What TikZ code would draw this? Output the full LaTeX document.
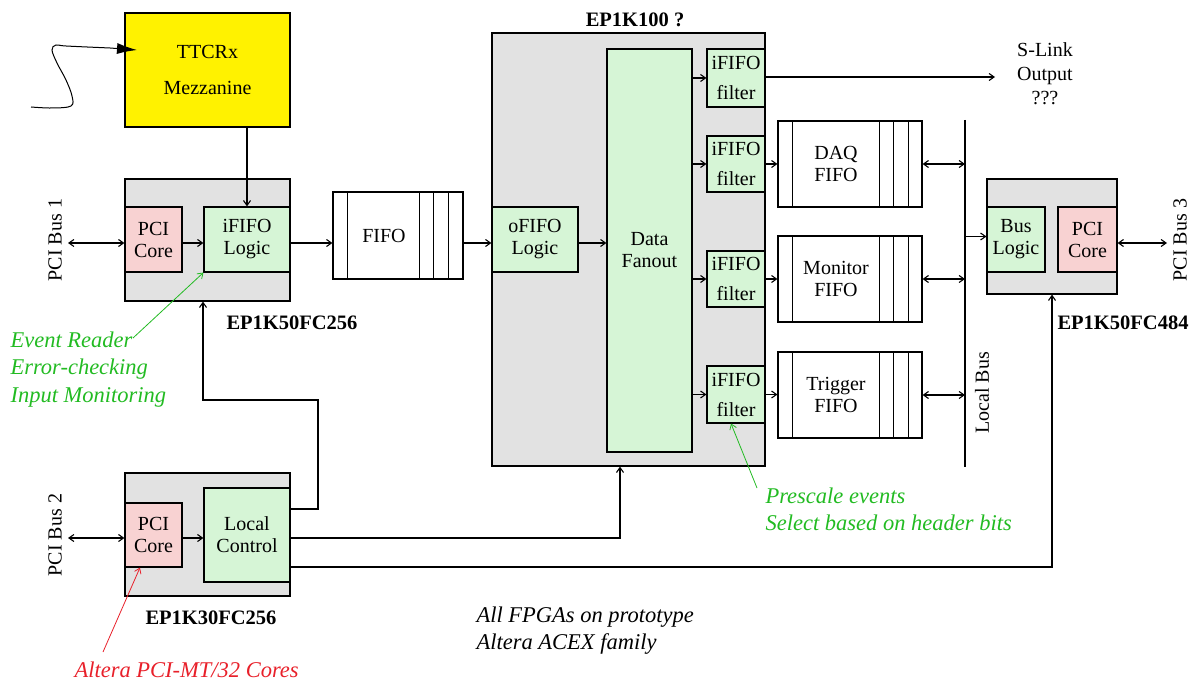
\documentclass[tikz,border=0pt]{standalone}
\usepackage{fontspec}
\setmainfont{Liberation Serif}
\usetikzlibrary{arrows.meta,calc}
\definecolor{chipgray}{HTML}{E2E2E2}
\definecolor{logicgreen}{HTML}{D6F5D6}
\definecolor{corepink}{HTML}{F8D2D2}
\definecolor{notegreen}{HTML}{22BB22}
\definecolor{notered}{HTML}{E8202A}
\begin{document}
\begin{tikzpicture}[x=1pt,y=-1pt,line width=1.1pt,
  txt/.style={font=\fontsize{20}{22}\selectfont},
  blk/.style={draw,rectangle,inner sep=0pt,align=center,txt},
  chip/.style={blk,fill=chipgray},
  logic/.style={blk,fill=logicgreen},
  core/.style={blk,fill=corepink},
  fifobox/.style={blk,fill=white},
  lbl/.style={font=\fontsize{20.5}{24}\selectfont\bfseries},
  note/.style={font=\fontsize{22.5}{27.5}\selectfont\itshape,align=left,inner sep=0pt},
  arr/.style={-{Straight Barb[length=5pt,width=7pt]}},
  darr/.style={{Straight Barb[length=5pt,width=7pt]}-{Straight Barb[length=5pt,width=7pt]}}]
\useasboundingbox (0,0) rectangle (1190,684);

% chips
\node[chip,minimum width=165,minimum height=122] (ep50a) at (207.5,240) {};
\node[chip,minimum width=273,minimum height=433] (ep100) at (628.5,249.5) {};
\node[chip,minimum width=130,minimum height=115] (ep50b) at (1052,236.5) {};
\node[chip,minimum width=165,minimum height=123] (ep30) at (207.5,534.5) {};

% TTCRx
\node[blk,fill=yellow,minimum width=165,minimum height=114,font=\fontsize{20}{23}\selectfont] (ttc) at (207.5,70) {TTCRx\\[13pt]Mezzanine};

% inner blocks
\node[core,minimum width=57,minimum height=65] (pci1) at (153.5,239.5) {PCI\\Core};
\node[logic,minimum width=86,minimum height=65] (ifl) at (247,239.5) {iFIFO\\Logic};
\node[logic,minimum width=86,minimum height=65] (ofl) at (535,239.5) {oFIFO\\Logic};
\node[logic,minimum width=85,minimum height=403] (fan) at (649.5,250.5) {Data\\Fanout};
\node[logic,minimum width=58,minimum height=58,font=\fontsize{20}{30}\selectfont] (f1) at (736,78) {iFIFO\\filter};
\node[logic,minimum width=58,minimum height=56,font=\fontsize{20}{30}\selectfont] (f2) at (736,164) {iFIFO\\filter};
\node[logic,minimum width=58,minimum height=56,font=\fontsize{20}{30}\selectfont] (f3) at (736,279) {iFIFO\\filter};
\node[logic,minimum width=58,minimum height=57,font=\fontsize{20}{30}\selectfont] (f4) at (736,394.5) {iFIFO\\filter};
\node[logic,minimum width=58,minimum height=65] (busl) at (1016,239.5) {Bus\\Logic};
\node[core,minimum width=59,minimum height=65] (pci3) at (1087.5,239.5) {PCI\\Core};
\node[core,minimum width=57,minimum height=64] (pci2) at (153.5,535) {PCI\\Core};
\node[logic,minimum width=86,minimum height=94] (lc) at (247,535) {Local\\Control};

% FIFOs
\node[fifobox,minimum width=130,minimum height=87] (fifo) at (398,235.5) {};
\node[txt] (fifot) at (384,236) {FIFO};
\node[fifobox,minimum width=144,minimum height=86] (daq) at (850,164) {};
\node[txt,align=center] (daqt) at (836,164) {DAQ\\FIFO};
\node[fifobox,minimum width=144,minimum height=86] (mon) at (850,279) {};
\node[txt,align=center] (mont) at (836,279) {Monitor\\FIFO};
\node[fifobox,minimum width=144,minimum height=86] (trg) at (850,395) {};
\node[txt,align=center] (trgt) at (836,395) {Trigger\\FIFO};
\foreach \d in {15,87,101,116}
  \draw ([xshift=\d]fifo.north west) -- ([xshift=\d]fifo.south west);
\foreach \f in {daq,mon,trg}
  \foreach \d in {15,102,116,131}
    \draw ([xshift=\d]\f.north west) -- ([xshift=\d]\f.south west);

% coordinates
\coordinate (pb1) at (68,243);
\coordinate (pb2) at (68,538);
\coordinate (pb3) at (1167,243);
\coordinate (slk) at (995,77);
\coordinate (lbt) at (965,120);
\coordinate (lbb) at (965,467);
\coordinate (sq) at (31,107);
\coordinate (sqend) at (137,50);

% squiggle cable
\draw[line width=1pt,-{Latex[length=20pt,width=11pt]}] plot[smooth,tension=0.6] coordinates
  {(sq) (52,108) (71,106) (72,96) (66,80) (57,63) (52,50) (56,45) (66,46) (110,48)} -- (sqend);

% connectors
\draw[arr] (ttc.south -| ifl.north) -- (ifl.north);
\draw[darr] (pb1) -- (pb1 -| pci1.west);
\draw[arr] (pb1 -| pci1.east) -- (pb1 -| ifl.west);
\draw[arr] (pb1 -| ifl.east) -- (pb1 -| fifo.west);
\draw[arr] (pb1 -| fifo.east) -- (pb1 -| ofl.west);
\draw[arr] (pb1 -| ofl.east) -- (pb1 -| fan.west);
\foreach \f in {f1,f2,f3,f4}
  \draw[arr] (fan.east |- \f) -- (\f.west);
\draw[arr] (f1.east |- slk) -- (slk);
\draw[arr] (f2.east) -- (f2.east -| daq.west);
\draw[arr] (f3.east) -- (f3.east -| mon.west);
\draw[arr] (f4.east) -- (f4.east -| trg.west);
\draw (lbt) -- (lbb);
\draw[darr] (daq.east) -- (daq.east -| lbt);
\draw[darr] (mon.east) -- (mon.east -| lbt);
\draw[darr] (trg.east) -- (trg.east -| lbt);
\draw[arr] (lbt |- ep50b) -- (ep50b.west);
\draw[darr] (pb3 -| pci3.east) -- (pb3);
\draw[darr] (pb2) -- (pb2 -| pci2.west);
\draw[arr] (pb2 -| pci2.east) -- (pb2 -| lc.west);
\draw[arr] (lc.east |- 0,509) -- (318,509) -- (318,400) -- (203,400) -- (203,0 |- ep50a.south);
\draw[arr] (lc.east |- pb2) -- (620,538) -- (620,0 |- ep100.south);
\draw[arr] (lc.east |- 0,567) -- (1052,567) -- (ep50b.south);

% annotations
\draw[notegreen,line width=0.8pt,arr] (133,338) -- (ifl.south west);
\draw[notegreen,line width=0.8pt,arr] (757,488) -- (731,0 |- f4.south);
\draw[notered,line width=0.8pt,arr] (103,652) -- (140,0 |- pci2.south);

% labels
\node[txt,rotate=90] (pl1) at (55,240) {PCI Bus 1};
\node[txt,rotate=90] (pl2) at (55,535) {PCI Bus 2};
\node[txt,rotate=90] (pl3) at (1180,240) {PCI Bus 3};
\node[txt,rotate=90] (lbl) at (982,393) {Local Bus};
\node[txt,align=center,font=\fontsize{20}{24}\selectfont] (slt) at (1045,74) {S-Link\\Output\\???};
\node[lbl] (l50a) at (292,323) {EP1K50FC256};
\node[lbl] (l30) at (211,618) {EP1K30FC256};
\node[lbl] (l50b) at (1123,323) {EP1K50FC484};
\node[lbl] (l100) at (635,20) {EP1K100 ?};
\node[note,text=notegreen,anchor=north west] (n1) at (10,331) {Event Reader\\Error-checking\\Input Monitoring};
\node[note,text=notegreen,anchor=north west] (n2) at (765,487) {Prescale events\\Select based on header bits};
\node[note,text=notered,anchor=west] (n3) at (74,670) {Altera PCI-MT/32 Cores};
\node[note,anchor=north west] (n4) at (476,606) {All FPGAs on prototype\\Altera ACEX family};
\end{tikzpicture}
\end{document}
